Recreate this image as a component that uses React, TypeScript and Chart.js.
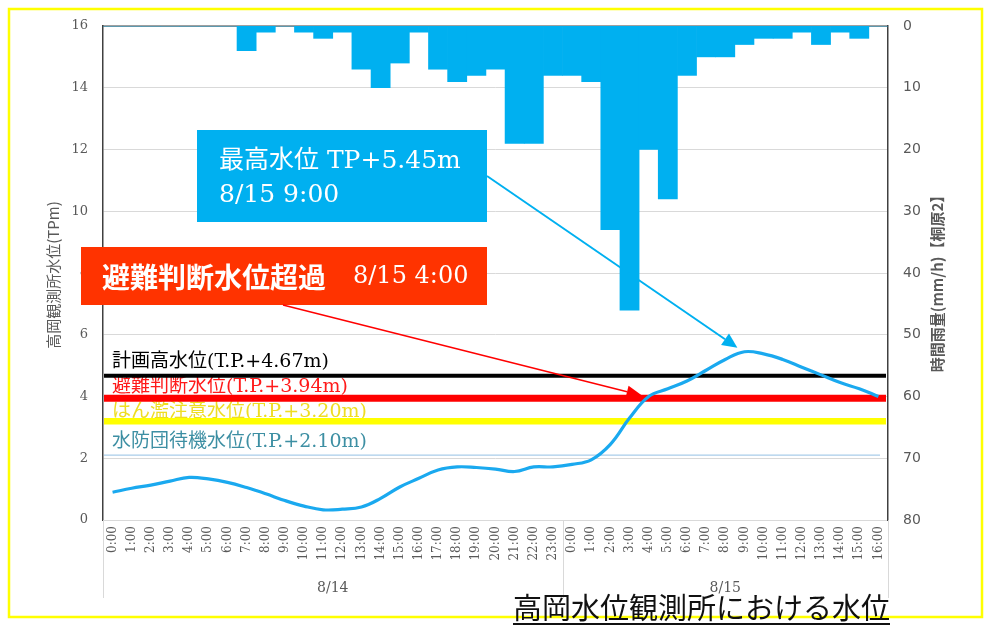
import React, { useEffect, useRef } from 'react';
import { Chart, registerables } from 'chart.js';

Chart.register(...registerables);

// ---------------- data ----------------
const hourLabels = [
  '0:00', '1:00', '2:00', '3:00', '4:00', '5:00', '6:00', '7:00', '8:00', '9:00', '10:00', '11:00',
  '12:00', '13:00', '14:00', '15:00', '16:00', '17:00', '18:00', '19:00', '20:00', '21:00', '22:00', '23:00',
  '0:00', '1:00', '2:00', '3:00', '4:00', '5:00', '6:00', '7:00', '8:00', '9:00', '10:00', '11:00',
  '12:00', '13:00', '14:00', '15:00', '16:00',
];
const dayLabels = ['8/14', '8/15'];
const dayStartIndex = [0, 24];

// water level (T.P. m), left axis
const waterLevel = [
  0.9, 1.03, 1.13, 1.26, 1.38, 1.33, 1.22, 1.05, 0.85, 0.63, 0.45, 0.33,
  0.35, 0.42, 0.7, 1.07, 1.35, 1.62, 1.72, 1.7, 1.65, 1.57, 1.72, 1.72,
  1.8, 1.95, 2.45, 3.3, 4.0, 4.25, 4.5, 4.85, 5.2, 5.45, 5.38, 5.2,
  4.95, 4.7, 4.45, 4.25, 4.0,
];

// hourly rainfall (mm/h), right axis (reversed)
const rainfall = [
  0, 0, 0, 0, 0, 0, 0, 4, 1, 0, 1, 2,
  1, 7, 10, 6, 1, 7, 9, 8, 7, 19, 19, 8,
  8, 9, 33, 46, 20, 28, 8, 5, 5, 3, 2, 2,
  1, 3, 1, 2, 0,
];

const thresholdValues = [4.67, 3.94, 3.2, 2.1];
const thresholdLabels = [
  '計画高水位(T.P.+4.67m)',
  '避難判断水位(T.P.+3.94m)',
  'はん濫注意水位(T.P.+3.20m)',
  '水防団待機水位(T.P.+2.10m)',
];

const peakIndex = 33;
const peakValue = 5.45;
const exceedIndex = 28;
const exceedValue = 3.94;

const leftAxisTitle = '高岡観測所水位(TPm)';
const rightAxisTitle = '時間雨量(mm/h)【桐原2】';
const peakText1 = '最高水位 TP+5.45m';
const peakText2 = '8/15 9:00';
const exceedTextJa = '避難判断水位超過';
const exceedTextTime = '8/15 4:00';
const chartTitle = '高岡水位観測所における水位';

// ---------------- styles ----------------
const thresholdColors = ['#000000', '#ff0000', '#ffff00', '#a9cdea'];
const thresholdWidths = [4, 7, 6.5, 1.2];
const thresholdLabelColors = ['#000000', '#ff1a1a', '#eedd22', '#3d8fa3'];
const thresholdLabelOffsets = [14, 11, 9, 13];
const BLUE = '#00b0f0';
const GRAY_TEXT = '#595959';
const SERIF_CJK = "'DejaVu Serif', 'Noto Sans CJK JP'";

function drawArrow(ctx: CanvasRenderingContext2D, x1: number, y1: number, x2: number, y2: number,
  color: string, width: number, headLen: number, headHalf: number) {
  const ang = Math.atan2(y2 - y1, x2 - x1);
  const bx = x2 - headLen * Math.cos(ang);
  const by = y2 - headLen * Math.sin(ang);
  ctx.save();
  ctx.strokeStyle = color;
  ctx.fillStyle = color;
  ctx.lineWidth = width;
  ctx.beginPath();
  ctx.moveTo(x1, y1);
  ctx.lineTo(bx, by);
  ctx.stroke();
  ctx.beginPath();
  ctx.moveTo(x2, y2);
  ctx.lineTo(bx + headHalf * Math.sin(ang), by - headHalf * Math.cos(ang));
  ctx.lineTo(bx - headHalf * Math.sin(ang), by + headHalf * Math.cos(ang));
  ctx.closePath();
  ctx.fill();
  ctx.restore();
}

const decorPlugin = {
  id: 'decor',
  beforeDatasetsDraw(chart: any) {
    const { ctx, chartArea, scales } = chart;
    const y = scales.y;
    ctx.save();
    // top plot border
    ctx.strokeStyle = '#404040';
    ctx.lineWidth = 1.2;
    ctx.beginPath();
    ctx.moveTo(chartArea.left, chartArea.top);
    ctx.lineTo(chartArea.right, chartArea.top);
    ctx.stroke();

    // threshold labels
    ctx.textBaseline = 'middle';
    ctx.textAlign = 'left';
    thresholdLabels.forEach((t, i) => {
      ctx.font = `19px ${SERIF_CJK}`;
      ctx.fillStyle = thresholdLabelColors[i];
      ctx.fillText(t, chartArea.left + 9, y.getPixelForValue(thresholdValues[i]) - thresholdLabelOffsets[i]);
    });
    // threshold lines
    thresholdValues.forEach((v, i) => {
      const py = y.getPixelForValue(v);
      ctx.strokeStyle = thresholdColors[i];
      ctx.lineWidth = thresholdWidths[i];
      ctx.beginPath();
      ctx.moveTo(chartArea.left + 1, py);
      ctx.lineTo(chartArea.right - (i === 3 ? 8 : 2), py);
      ctx.stroke();
    });
    ctx.restore();
  },
  afterDraw(chart: any) {
    const { ctx, chartArea, scales } = chart;
    const x = scales.x;
    const y = scales.y;
    ctx.save();

    // x group separators and labels
    const half = (x.getPixelForValue(1) - x.getPixelForValue(0)) / 2;
    const bounds = dayStartIndex.map((s) => x.getPixelForValue(s) - half);
    bounds.push(chartArea.right);
    ctx.strokeStyle = '#d9d9d9';
    ctx.lineWidth = 1;
    bounds.forEach((bx) => {
      ctx.beginPath();
      ctx.moveTo(Math.round(bx) + 0.5, chartArea.bottom);
      ctx.lineTo(Math.round(bx) + 0.5, chartArea.bottom + 78);
      ctx.stroke();
    });
    ctx.fillStyle = GRAY_TEXT;
    ctx.font = "14px 'DejaVu Serif'";
    ctx.textAlign = 'center';
    ctx.textBaseline = 'middle';
    dayLabels.forEach((d, i) => {
      ctx.fillText(d, (bounds[i] + bounds[i + 1]) / 2, chartArea.bottom + 68);
    });

    // axis titles
    ctx.font = "15px 'Noto Sans CJK JP', 'DejaVu Sans'";
    ctx.fillStyle = GRAY_TEXT;
    ctx.save();
    ctx.translate(53, 275);
    ctx.rotate(-Math.PI / 2);
    ctx.fillText(leftAxisTitle, 0, 0);
    ctx.restore();
    ctx.save();
    ctx.font = "bold 15px 'Noto Sans CJK JP', 'DejaVu Sans'";
    ctx.translate(937, 280);
    ctx.rotate(-Math.PI / 2);
    ctx.fillText(rightAxisTitle, 0, 0);
    ctx.restore();

    // peak annotation
    ctx.fillStyle = BLUE;
    ctx.fillRect(197, 130, 290, 92);
    ctx.fillStyle = '#ffffff';
    ctx.textAlign = 'left';
    ctx.textBaseline = 'middle';
    ctx.font = `25px ${SERIF_CJK}`;
    ctx.fillText(peakText1, 219, 161);
    ctx.fillText(peakText2, 219, 195);
    drawArrow(ctx, 487, 176, x.getPixelForValue(peakIndex) - 7, y.getPixelForValue(peakValue) - 4, BLUE, 2, 15, 7);

    // exceedance annotation
    ctx.fillStyle = '#ff3300';
    ctx.fillRect(81, 247, 406, 58);
    ctx.fillStyle = '#ffffff';
    ctx.font = "bold 28px 'Noto Sans CJK JP'";
    ctx.fillText(exceedTextJa, 102, 277);
    ctx.font = "24px 'DejaVu Serif'";
    ctx.fillText(exceedTextTime, 353, 277);
    drawArrow(ctx, 283, 305, x.getPixelForValue(exceedIndex) - 7, y.getPixelForValue(exceedValue) - 3, '#ff0000', 1.5, 15, 6);

    // yellow frame
    ctx.strokeStyle = '#ffff00';
    ctx.lineWidth = 2.5;
    ctx.strokeRect(9, 9, 973, 608);

    // bottom title
    ctx.fillStyle = '#111111';
    ctx.font = "29px 'Noto Sans CJK JP'";
    ctx.textAlign = 'left';
    ctx.textBaseline = 'alphabetic';
    const tw = ctx.measureText(chartTitle).width;
    const tx = chartArea.right + 2 - tw;
    ctx.fillText(chartTitle, tx, 619);
    ctx.strokeStyle = '#111111';
    ctx.lineWidth = 2;
    ctx.beginPath();
    ctx.moveTo(tx, 624);
    ctx.lineTo(tx + tw, 624);
    ctx.stroke();

    ctx.restore();
  },
};

export default function App() {
  const ref = useRef<HTMLCanvasElement | null>(null);

  useEffect(() => {
    if (!ref.current) return;
    const chart = new Chart(ref.current, {
      data: {
        labels: hourLabels,
        datasets: [
          {
            type: 'line',
            data: waterLevel,
            yAxisID: 'y',
            borderColor: '#1aa9ef',
            borderWidth: 3.2,
            pointRadius: 0,
            tension: 0.4,
            fill: false,
            order: 1,
          },
          {
            type: 'bar',
            data: rainfall,
            yAxisID: 'y2',
            backgroundColor: BLUE,
            borderWidth: 0,
            barPercentage: 1,
            categoryPercentage: 1,
            order: 2,
          },
        ],
      } as any,
      plugins: [decorPlugin],
      options: {
        animation: false,
        responsive: true,
        maintainAspectRatio: false,
        layout: { padding: { top: 26, left: 0, right: 0, bottom: 0 } },
        plugins: { legend: { display: false }, tooltip: { enabled: false } },
        scales: {
          x: {
            type: 'category',
            offset: true,
            grid: { display: false, drawTicks: false },
            border: { display: true, color: '#d9d9d9', width: 1 },
            ticks: {
              autoSkip: false,
              maxRotation: 90,
              minRotation: 90,
              padding: 6,
              color: GRAY_TEXT,
              font: { family: 'DejaVu Serif', size: 12 },
            },
            afterFit: (s: any) => { s.height = 109; },
          },
          y: {
            position: 'left',
            min: 0,
            max: 16,
            ticks: {
              stepSize: 2,
              padding: 15,
              color: GRAY_TEXT,
              font: { family: 'DejaVu Serif', size: 13 },
            },
            grid: { color: '#d9d9d9', lineWidth: 1, drawTicks: false },
            border: { display: true, color: '#404040', width: 1.5 },
            afterFit: (s: any) => { s.width = 103; },
          },
          y2: {
            position: 'right',
            min: 0,
            max: 80,
            reverse: true,
            ticks: {
              stepSize: 10,
              padding: 15,
              color: GRAY_TEXT,
              font: { family: 'DejaVu Sans', size: 14 },
            },
            grid: { display: false, drawTicks: false },
            border: { display: true, color: '#404040', width: 1.5 },
            afterFit: (s: any) => { s.width = 102; },
          },
        },
      } as any,
    });
    return () => chart.destroy();
  }, []);

  return (
    <div style={{ position: 'absolute', left: 0, top: 0, width: 990, height: 629, background: '#ffffff' }}>
      <canvas ref={ref} />
    </div>
  );
}
